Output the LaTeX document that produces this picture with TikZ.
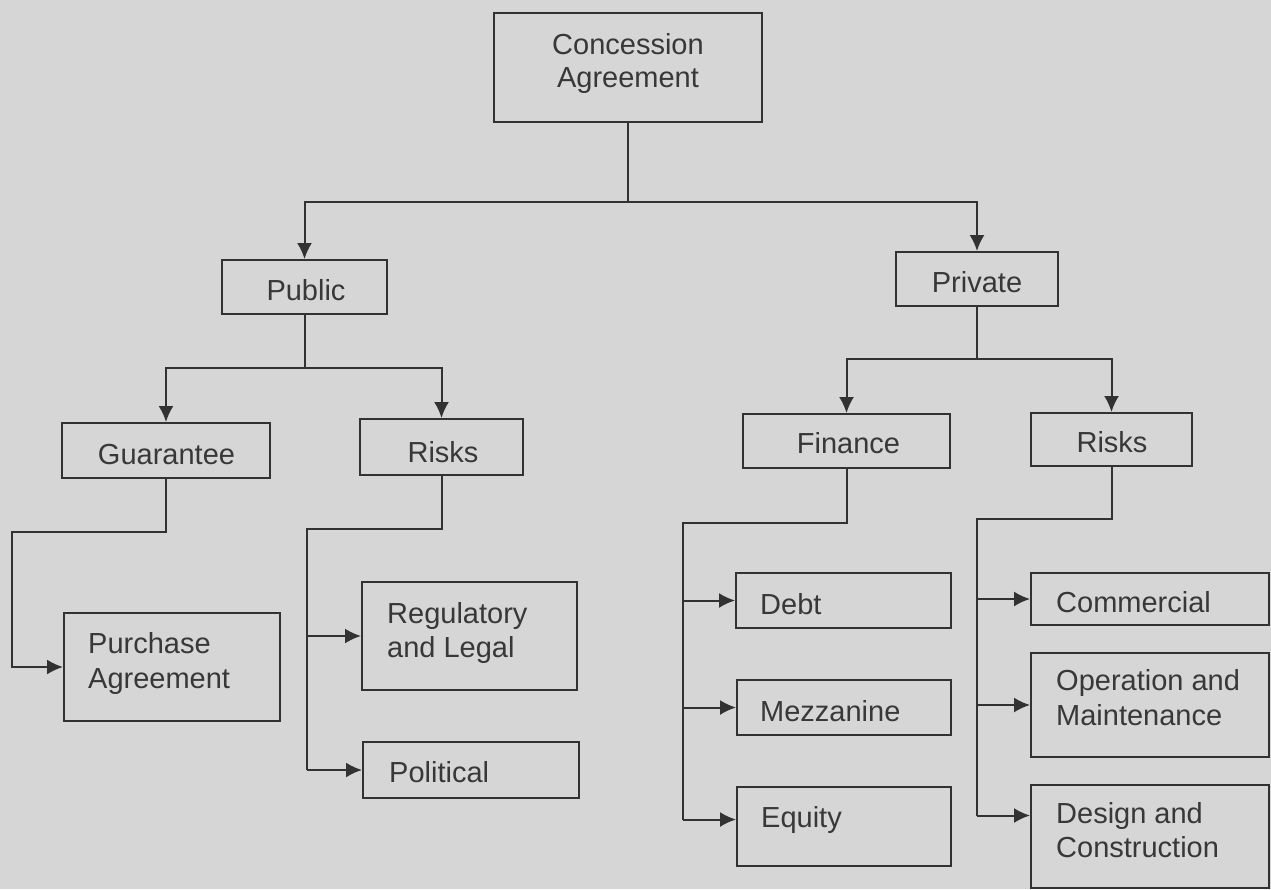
\documentclass[tikz,border=0pt]{standalone}
\usepackage{fontspec}
\setmainfont{Liberation Sans}
\usetikzlibrary{arrows.meta}
\definecolor{paper}{RGB}{214,214,214}
\definecolor{inkline}{RGB}{50,50,50}
\definecolor{inktext}{RGB}{56,56,56}
\begin{document}
\begin{tikzpicture}[x=1pt,y=-1pt,
  box/.style={draw=inkline, line width=2pt, inner sep=0pt},
  txt/.style={inner sep=0pt, text=inktext, font=\fontsize{29}{34}\selectfont},
  link/.style={draw=inkline, line width=2pt},
  arr/.style={link, -{Latex[length=16pt,width=15pt]}}]
\useasboundingbox[fill=paper] (0,0) rectangle (1271,889);

% boxes
\node[box, minimum width=268, minimum height=109] (conc)       at (628,67.5)   {};
\node[box, minimum width=165, minimum height=54]  (public)     at (304.5,287)  {};
\node[box, minimum width=162, minimum height=54]  (private)    at (977,279)    {};
\node[box, minimum width=208, minimum height=55]  (guarantee)  at (166,450.5)  {};
\node[box, minimum width=163, minimum height=56]  (risksa)     at (441.5,447)  {};
\node[box, minimum width=207, minimum height=54]  (finance)    at (846.5,441)  {};
\node[box, minimum width=161, minimum height=53]  (risksb)     at (1111.5,439.5) {};
\node[box, minimum width=216, minimum height=108] (purchase)   at (172,667)    {};
\node[box, minimum width=215, minimum height=108] (regulatory) at (469.5,636)  {};
\node[box, minimum width=216, minimum height=56]  (political)  at (471,770)    {};
\node[box, minimum width=215, minimum height=55]  (debt)       at (843.5,600.5) {};
\node[box, minimum width=214, minimum height=55]  (mezz)       at (844,707.5)  {};
\node[box, minimum width=214, minimum height=79]  (equity)     at (844,826.5)  {};
\node[box, minimum width=238, minimum height=52]  (commercial) at (1150,599)   {};
\node[box, minimum width=238, minimum height=104] (onm)        at (1150,705)   {};
\node[box, minimum width=238, minimum height=103] (dnc)        at (1150,836.5) {};

% labels
\node[txt, anchor=base] (conc-t1)      at (628,54)    {Concession};
\node[txt, anchor=base] (conc-t2)      at (628,87)    {Agreement};
\node[txt, anchor=base] (public-t)     at (306,300)   {Public};
\node[txt, anchor=base] (private-t)    at (977,292)   {Private};
\node[txt, anchor=base] (guarantee-t)  at (166.5,464) {Guarantee};
\node[txt, anchor=base] (risksa-t)     at (443,462)   {Risks};
\node[txt, anchor=base] (finance-t)    at (848.5,453) {Finance};
\node[txt, anchor=base] (risksb-t)     at (1112,452)  {Risks};
\node[txt, anchor=base west] (purchase-t1)   at (88,653)   {Purchase};
\node[txt, anchor=base west] (purchase-t2)   at (88,688)   {Agreement};
\node[txt, anchor=base west] (regulatory-t1) at (387,623)  {Regulatory};
\node[txt, anchor=base west] (regulatory-t2) at (387,657)  {and Legal};
\node[txt, anchor=base west] (political-t)   at (389,782)  {Political};
\node[txt, anchor=base west] (debt-t)        at (760,614)  {Debt};
\node[txt, anchor=base west] (mezz-t)        at (760,721)  {Mezzanine};
\node[txt, anchor=base west] (equity-t)      at (761,827)  {Equity};
\node[txt, anchor=base west] (commercial-t)  at (1056,612) {Commercial};
\node[txt, anchor=base west] (onm-t1)        at (1056,690) {Operation and};
\node[txt, anchor=base west] (onm-t2)        at (1056,725) {Maintenance};
\node[txt, anchor=base west] (dnc-t1)        at (1056,823) {Design and};
\node[txt, anchor=base west] (dnc-t2)        at (1056,857) {Construction};

% branch points
\coordinate (j0) at (628,202);
\coordinate (j1) at (304.5,368);
\coordinate (j2) at (977,359);
\coordinate (gb) at (12,532);
\coordinate (rb1) at (307,529);
\coordinate (fb) at (683,523);
\coordinate (rb2) at (977,519);

% top level
\draw[link] (conc) -- (j0);
\draw[arr] (j0) -| (public);
\draw[arr] (j0) -| (private);

% public side
\draw[link] (public) -- (j1);
\draw[arr] (j1) -| (guarantee);
\draw[arr] (j1) -| (risksa);
\draw[arr] (guarantee.south) |- (gb) |- (purchase);
\draw[link] (risksa.south) |- (rb1) -- (rb1 |- political);
\draw[arr] (rb1 |- regulatory) -- (regulatory);
\draw[arr] (rb1 |- political) -- (political);

% private side
\draw[link] (private) -- (j2);
\draw[arr] (j2) -| (finance);
\draw[arr] (j2) -| (risksb);
\draw[link] (finance.south) |- (fb) -- (fb |- equity-t);
\draw[arr] (fb |- debt) -- (debt);
\draw[arr] (fb |- mezz) -- (mezz);
\draw[arr] (fb |- equity-t) -- (equity.west |- equity-t);
\draw[link] (risksb.south) |- (rb2) -- (rb2 |- dnc-t1);
\draw[arr] (rb2 |- commercial) -- (commercial);
\draw[arr] (rb2 |- onm) -- (onm);
\draw[arr] (rb2 |- dnc-t1) -- (dnc.west |- dnc-t1);
\end{tikzpicture}
\end{document}
